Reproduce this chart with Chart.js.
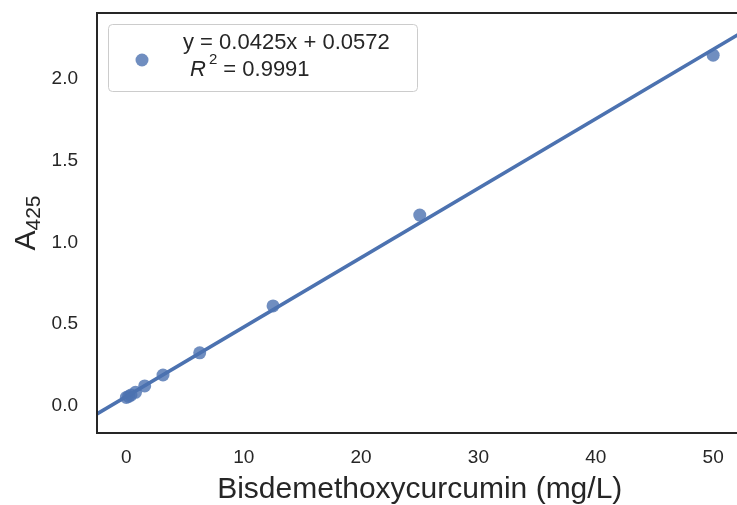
<!DOCTYPE html>
<html>
<head>
<meta charset="utf-8">
<script src="https://cdn.jsdelivr.net/npm/chart.js@4.4.1/dist/chart.umd.min.js"></script>
<style>
  html, body { margin: 0; padding: 0; background: #fff; overflow: hidden; }
  #wrap { position: relative; width: 749px; height: 505px; }
</style>
</head>
<body>
<div id="wrap"><canvas id="calib"></canvas></div>
<script>
// Calibration standards (mg/L) and measured absorbance at 425 nm
const concentration = [0, 0.195, 0.39, 0.78, 1.5625, 3.125, 6.25, 12.5, 25, 50];
const absorbance = [0.052, 0.058, 0.066, 0.083, 0.122, 0.189, 0.325, 0.612, 1.168, 2.147];

// Linear fit
const slope = 0.0425;
const intercept = 0.0572;
const rSquared = 0.9991;

const xLimits = [-2.5, 52.5];
const yLimits = [-0.166, 2.405];
const xTicks = [0, 10, 20, 30, 40, 50];
const yTicks = [0.0, 0.5, 1.0, 1.5, 2.0];

const blue = "#4c72b0";
const ink = "#262626";
const fontFamily = "'Liberation Sans', Arial, sans-serif";

const fitLine = xLimits.map((x) => ({ x, y: slope * x + intercept }));
const points = concentration.map((x, i) => ({ x, y: absorbance[i] }));

// axes frame (left / top / bottom spines, right one falls outside the view)
const framePlugin = {
  id: "frame",
  afterDatasetsDraw(chart) {
    const { ctx, chartArea: a } = chart;
    ctx.save();
    ctx.strokeStyle = ink;
    ctx.lineWidth = 2;
    ctx.strokeRect(a.left, a.top, a.right - a.left, a.bottom - a.top);
    ctx.restore();
  }
};

// y title with subscript: A_425
const yTitlePlugin = {
  id: "yTitle",
  afterDraw(chart) {
    const { ctx, chartArea: a } = chart;
    const cy = (a.top + a.bottom) / 2;
    ctx.save();
    ctx.translate(35, cy);
    ctx.rotate(-Math.PI / 2);
    ctx.fillStyle = ink;
    ctx.textBaseline = "alphabetic";
    ctx.font = `30px ${fontFamily}`;
    const wA = ctx.measureText("A").width;
    ctx.font = `21px ${fontFamily}`;
    const wSub = ctx.measureText("425").width;
    const start = -(wA + wSub) / 2;
    ctx.font = `30px ${fontFamily}`;
    ctx.fillText("A", start, 0);
    ctx.font = `21px ${fontFamily}`;
    ctx.fillText("425", start + wA, 5);
    ctx.restore();
  }
};

// legend box with the fit equation
const legendPlugin = {
  id: "fitLegend",
  afterDraw(chart) {
    const { ctx } = chart;
    ctx.save();
    const bx = 108, by = 24, bw = 309, bh = 67, r = 4;
    ctx.beginPath();
    ctx.roundRect(bx + 0.5, by + 0.5, bw, bh, r);
    ctx.fillStyle = "rgba(255,255,255,0.8)";
    ctx.fill();
    ctx.strokeStyle = "#cccccc";
    ctx.lineWidth = 1;
    ctx.stroke();

    ctx.beginPath();
    ctx.arc(142, 60, 6.5, 0, Math.PI * 2);
    ctx.fillStyle = "rgba(76,114,176,0.8)";
    ctx.fill();

    ctx.fillStyle = ink;
    ctx.textBaseline = "alphabetic";
    ctx.font = `22px ${fontFamily}`;
    ctx.fillText(`y = ${slope}x + ${intercept}`, 183, 49);

    let x = 190;
    ctx.font = `italic 22px ${fontFamily}`;
    ctx.fillText("R", x, 76);
    x += ctx.measureText("R").width + 3;
    ctx.font = `15px ${fontFamily}`;
    ctx.fillText("2", x, 64);
    x += ctx.measureText("2").width;
    ctx.font = `22px ${fontFamily}`;
    ctx.fillText(` = ${rSquared}`, x, 76);
    ctx.restore();
  }
};

new Chart(document.getElementById("calib"), {
  data: {
    datasets: [
      {
        type: "line",
        label: "fit",
        data: fitLine,
        borderColor: blue,
        borderWidth: 3.5,
        pointRadius: 0,
        tension: 0
      },
      {
        type: "scatter",
        label: "standards",
        data: points,
        backgroundColor: "rgba(76,114,176,0.8)",
        borderWidth: 0,
        pointRadius: 6.5
      }
    ]
  },
  options: {
    responsive: true,
    maintainAspectRatio: false,
    animation: false,
    layout: { padding: { top: 13, right: 3, left: 0, bottom: 0 } },
    plugins: { legend: { display: false }, tooltip: { enabled: false } },
    scales: {
      x: {
        type: "linear",
        min: xLimits[0],
        max: xLimits[1],
        afterFit: (s) => {
          s.height = 72;
          s.paddingLeft = 0;
          s.paddingRight = 0;
        },
        afterBuildTicks: (s) => { s.ticks = xTicks.map((v) => ({ value: v })); },
        grid: { display: false, drawTicks: false },
        border: { display: false },
        ticks: {
          color: ink,
          padding: 13,
          font: { family: fontFamily, size: 19 },
          callback: (v) => String(v)
        },
        title: {
          display: true,
          text: "Bisdemethoxycurcumin (mg/L)",
          color: ink,
          font: { family: fontFamily, size: 30 },
          padding: { top: 0, bottom: -3 }
        }
      },
      y: {
        type: "linear",
        min: yLimits[0],
        max: yLimits[1],
        afterFit: (s) => {
          s.width = 97;
          s.paddingTop = 0;
          s.paddingBottom = 0;
        },
        afterBuildTicks: (s) => { s.ticks = yTicks.map((v) => ({ value: v })); },
        grid: { display: false, drawTicks: false },
        border: { display: false },
        ticks: {
          color: ink,
          padding: 19,
          font: { family: fontFamily, size: 19 },
          callback: (v) => v.toFixed(1)
        }
      }
    }
  },
  plugins: [framePlugin, yTitlePlugin, legendPlugin]
});
</script>
</body>
</html>
